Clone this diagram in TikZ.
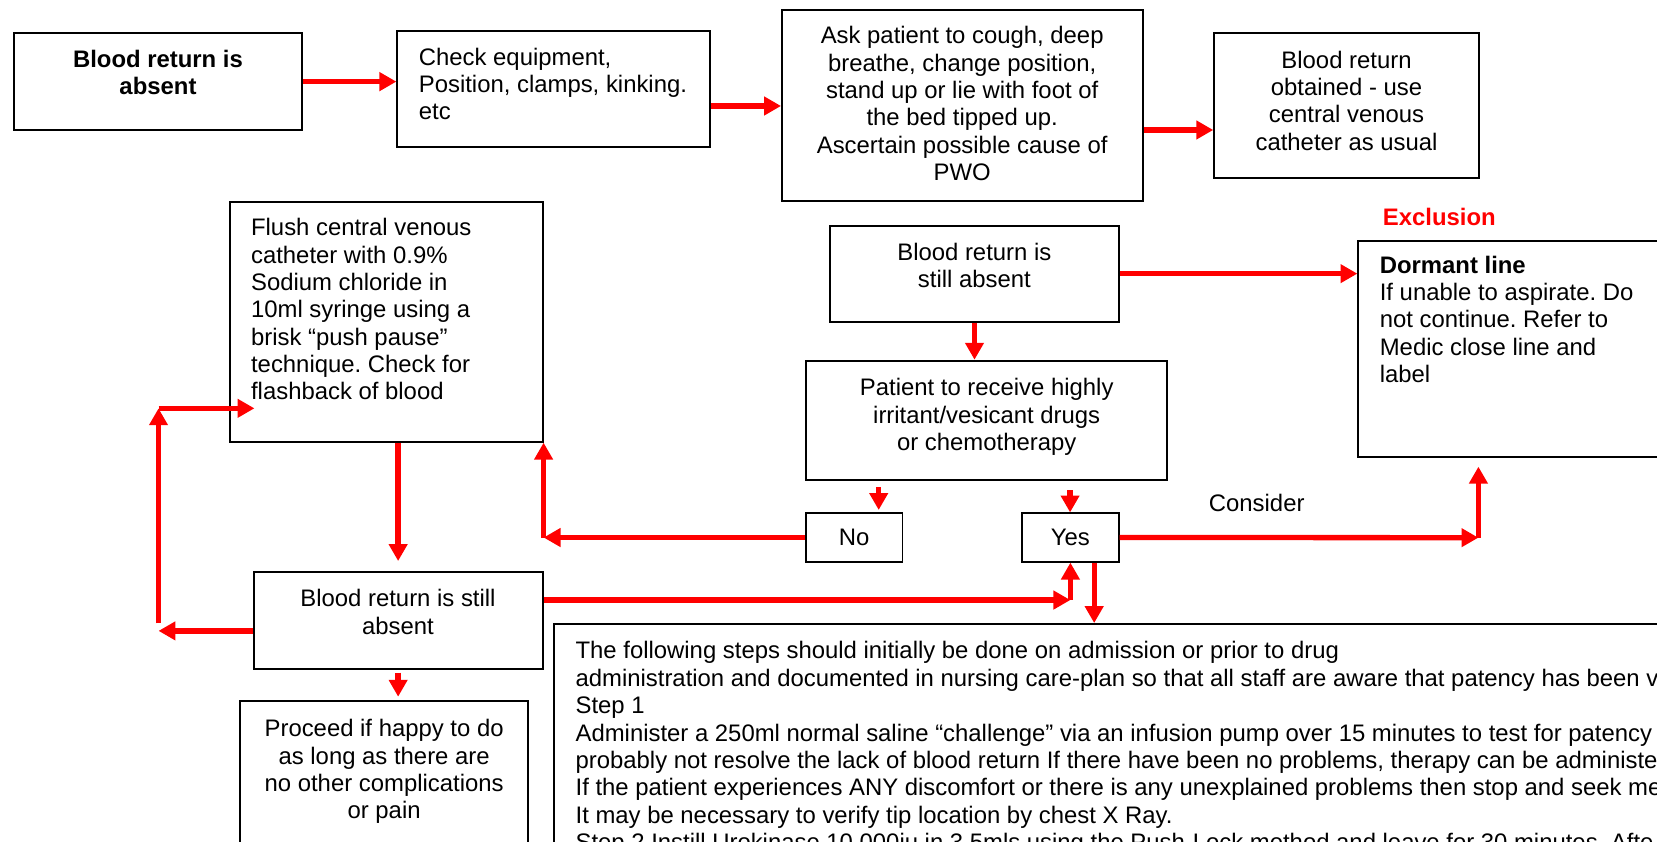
\documentclass[tikz,border=0pt]{standalone}
\usepackage{fontspec}
\setmainfont{Liberation Sans}
\usetikzlibrary{arrows.meta,fit}
\newcommand\fsz{\fontsize{11.3pt}{12.95pt}\selectfont}
\frenchspacing
\begin{document}
\begin{tikzpicture}[x=0.5pt,y=-0.5pt,
  box/.style={draw=black, line width=0.9pt, inner sep=0pt},
  txt/.style={inner sep=0pt, font=\fsz},
  ctxt/.style={txt, anchor=north, align=center},
  ltxt/.style={txt, anchor=north west, align=left},
  arr/.style={draw=red, line width=2.5pt, -{Triangle[length=8pt,width=8.5pt]}}]
\useasboundingbox (0,0) rectangle (1568,796);
\clip (0,0) rectangle (1568,796);

% boxes
\node[box, fit={(12.9,31.5) (286.2,123)}] (b1) {};
\node[ctxt, font=\fsz\bfseries] (t1) at (149.5,45) {\strut Blood return is\\absent};

\node[box, fit={(376,29) (672.2,139.4)}] (b2) {};
\node[ltxt] (t2) at (396,43) {\strut Check equipment,\\Position, clamps, kinking.\\etc};

\node[box, fit={(740,9.5) (1081.3,190)}] (b3) {};
\node[ctxt] (t3) at (910.5,23) {\strut Ask patient to cough, deep\\breathe, change position,\\stand up or lie with foot of\\the bed tipped up.\\Ascertain possible cause of\\PWO};

\node[box, fit={(1149,31.5) (1399.5,168.1)}] (b4) {};
\node[ctxt] (t4) at (1274.2,46) {\strut Blood return\\obtained - use\\central venous\\catheter as usual};

\node[box, fit={(217.3,190.8) (513.5,418)}] (b5) {};
\node[ltxt] (t5) at (237.2,204.5) {\strut Flush central venous\\catheter with 0.9\%\\Sodium chloride in\\10ml syringe using a\\brisk “push pause”\\technique. Check for\\flashback of blood};

\node[box, fit={(785.4,213.5) (1058.9,304.4)}] (b6) {};
\node[ctxt] (t6) at (922,228) {\strut Blood return is\\still absent};

\node[box, fit={(762.7,341.3) (1104,454.2)}] (b7) {};
\node[ctxt] (t7) at (933.7,356) {\strut Patient to receive highly\\irritant/vesicant drugs\\or chemotherapy};

\node[txt, text=red, font=\fsz\bfseries] (ex) at (1362,205) {Exclusion};

\node[box, fit={(1285.4,227.7) (1700,432.2)}] (b8) {};
\node[ltxt] (t8) at (1305.3,240) {\strut\textbf{Dormant line}\\If unable to aspirate. Do\\not continue. Refer to\\Medic close line and\\label};

\node[box, fit={(762.7,485.8) (854,531.5)}] (no) {};
\node[txt] (tno) at (no.center) {No};

\node[box, fit={(967.3,485.8) (1058.5,531.5)}] (yes) {};
\node[txt] (tyes) at (yes.center) {Yes};

\node[txt] (cons) at (1189.2,476.3) {Consider};

\node[box, fit={(240,541.6) (513.5,633.1)}] (b9) {};
\node[ctxt] (t9) at (376.6,555.6) {\strut Blood return is still\\absent};

\node[box, fit={(227,663) (500,900)}] (b10) {};
\node[ctxt] (t10) at (363.5,678.6) {\strut Proceed if happy to do\\as long as there are\\no other complications\\or pain};

\node[box, fit={(524.4,590.5) (1700,900)}] (b11) {};
\node[ltxt] (t11) at (544.3,605) {\strut The following steps should initially be done on admission or prior to drug\\
administration and documented in nursing care-plan so that all staff are aware that patency has been v\\
Step 1\\
Administer a 250ml normal saline “challenge” via an infusion pump over 15 minutes to test for patency\\
probably not resolve the lack of blood return If there have been no problems, therapy can be administe\\
If the patient experiences ANY discomfort or there is any unexplained problems then stop and seek me\\
It may be necessary to verify tip location by chest X Ray.\\
Step 2 Instill Urokinase 10,000iu in 3.5mls using the Push-Lock method and leave for 30 minutes. Afte};

% connectors
\draw[arr] (b1.east) -- (b1.east -| b2.west);
\draw[arr] (b2.east |- 0,100.3) -- (b3.west |- 0,100.3);
\draw[arr] (b3.east |- 0,123) -- (b4.west |- 0,123);
\draw[arr] (b6.east) -- (b6.east -| b8.west);
\draw[arr] (b6.south) -- (b6.south |- b7.north);

\coordinate (na) at (831.5,461.2);
\coordinate (nb) at (831.5,482.6);
\draw[arr] (na) -- (nb);
\coordinate (ya) at (1012.6,463.7);
\draw[arr] (ya) -- (ya |- yes.north);

\coordinate (c1) at (b5.south east |- no.west);
\draw[arr] (no.west) -- (c1);
\draw[arr] (c1) -- (b5.south east);

\coordinate (c4) at (1399,508.8);
\coordinate (c5) at (1399,441.6);
\draw[arr] (yes.east) -- (c4);
\draw[arr] (c4) -- (c5);

\coordinate (c3) at (yes.south |- 0,567.8);
\draw[arr] (b9.east |- c3) -- (c3);
\draw[arr] (c3) -- (yes.south);

\draw[arr] (yes.south -| 1035.4,0) -- (b11.north -| 1035.4,0);

\draw[arr] (b9.north |- b5.south) -- (b9.north |- 0,530.9);
\draw[arr] (b9.south |- 0,636.6) -- (b9.south |- 0,659.3);

\coordinate (l1) at (150,597);
\coordinate (l2) at (150,590);
\coordinate (l3) at (150,386.4);
\coordinate (l4) at (240.8,386.4);
\draw[arr] (b9.west |- l1) -- (l1);
\draw[arr] (l2) -- (l3);
\draw[arr] (l3) -- (l4);
\end{tikzpicture}
\end{document}
